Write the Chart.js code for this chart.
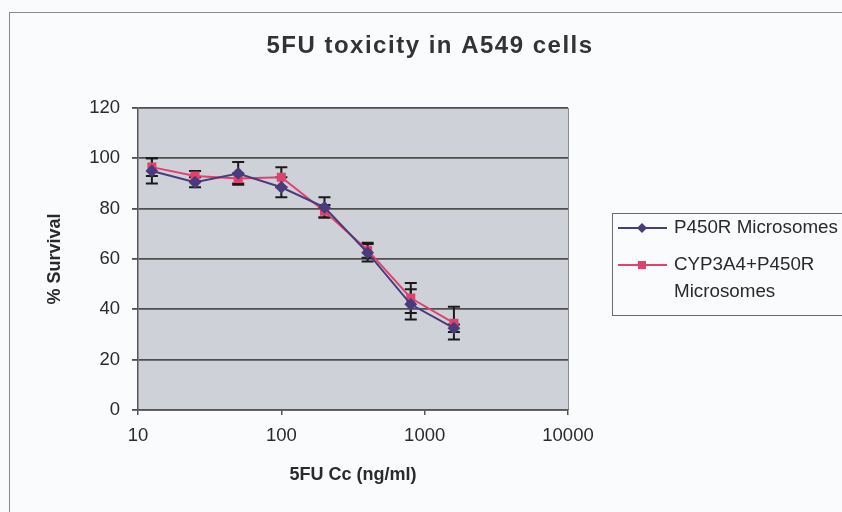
<!DOCTYPE html>
<html>
<head>
<meta charset="utf-8">
<script src="https://cdn.jsdelivr.net/npm/chart.js@4/dist/chart.umd.min.js"></script>
<style>
    html, body { margin: 0; padding: 0; background: #f9fbfc; }
    canvas { display: block; }
</style>
</head>
<body>
<canvas id="toxChart" width="842" height="512"></canvas>
<script>
// 5FU concentrations (ng/ml) and % survival
const concentrations = [12.5, 25, 50, 100, 200, 400, 800, 1600];
const p450rSurvival = [95, 90.5, 94, 88.5, 80.5, 62.5, 42, 32.5];
const p450rError = [5, 2, 4.5, 4, 4, 3.5, 6, 1.5];
const cypSurvival = [96.5, 93, 92, 92.5, 79, 63.5, 44.5, 34.5];
const cypError = [3.5, 2, 2, 4, 2.5, 3, 6, 6.5];
const xTickValues = [10, 100, 1000, 10000];
const seriesNames = ['P450R Microsomes', ['CYP3A4+P450R', 'Microsomes']];

const blue = '#4a3b7c';
const pink = '#e0426e';
const textColor = '#2a2a2a';
const fontFamily = 'Arial, "Liberation Sans", sans-serif';

function toPoints(values) {
    return concentrations.map((c, i) => ({ x: c, y: values[i] }));
}

// grey plot area, outer frame and title
const backdrop = {
    id: 'backdrop',
    beforeDraw(chart) {
        const { ctx, chartArea: a } = chart;
        ctx.save();
        ctx.fillStyle = '#cfd1d9';
        ctx.fillRect(a.left, a.top, a.right - a.left, a.bottom - a.top);
        ctx.strokeStyle = '#8a8a8a';
        ctx.lineWidth = 1;
        ctx.strokeRect(9.5, 12.5, 900, 600);
        ctx.strokeStyle = '#8c8c8c';
        ctx.beginPath();
        ctx.moveTo(a.right + 0.5, a.top);
        ctx.lineTo(a.right + 0.5, a.bottom);
        ctx.stroke();
        ctx.fillStyle = '#333';
        ctx.font = 'bold 24px ' + fontFamily;
        ctx.letterSpacing = '1.5px';
        ctx.textAlign = 'center';
        ctx.textBaseline = 'middle';
        ctx.fillText('5FU toxicity in A549 cells', 430, 46);
        ctx.restore();
    }
};

// vertical error bars with caps
const errorBars = {
    id: 'errorBars',
    beforeDatasetsDraw(chart) {
        const { ctx, scales: { x, y } } = chart;
        ctx.save();
        ctx.strokeStyle = '#1a1a1a';
        ctx.lineWidth = 2;
        chart.data.datasets.forEach(ds => {
            ds.data.forEach((p, i) => {
                const px = x.getPixelForValue(p.x);
                const top = y.getPixelForValue(p.y + ds.err[i]);
                const bot = y.getPixelForValue(p.y - ds.err[i]);
                ctx.beginPath();
                ctx.moveTo(px, top);
                ctx.lineTo(px, bot);
                ctx.moveTo(px - 6, top);
                ctx.lineTo(px + 6, top);
                ctx.moveTo(px - 6, bot);
                ctx.lineTo(px + 6, bot);
                ctx.stroke();
            });
        });
        ctx.restore();
    }
};

// boxed legend on the right
const boxLegend = {
    id: 'boxLegend',
    afterDraw(chart) {
        const { ctx } = chart;
        ctx.save();
        ctx.strokeStyle = '#6a6a6a';
        ctx.lineWidth = 1;
        ctx.strokeRect(612.5, 213.5, 300, 102);
        const rows = [228, 265];
        chart.data.datasets.forEach((ds, i) => {
            const yy = rows[i];
            ctx.strokeStyle = ds.borderColor;
            ctx.lineWidth = 2;
            ctx.beginPath();
            ctx.moveTo(618, yy);
            ctx.lineTo(667, yy);
            ctx.stroke();
            ctx.fillStyle = ds.pointBackgroundColor;
            ctx.beginPath();
            if (ds.pointStyle === 'rectRot') {
                ctx.moveTo(642, yy - 5);
                ctx.lineTo(647, yy);
                ctx.lineTo(642, yy + 5);
                ctx.lineTo(637, yy);
                ctx.closePath();
            } else {
                ctx.rect(638, yy - 4, 8, 8);
            }
            ctx.fill();
            ctx.fillStyle = textColor;
            ctx.font = '18.8px ' + fontFamily;
            ctx.textBaseline = 'middle';
            const lines = [].concat(seriesNames[i]);
            lines.forEach((t, k) => ctx.fillText(t, 674, yy + k * 27));
        });
        ctx.restore();
    }
};

const ctx = document.getElementById('toxChart').getContext('2d');
new Chart(ctx, {
    type: 'line',
    data: {
        datasets: [{
            label: 'P450R Microsomes',
            data: toPoints(p450rSurvival),
            err: p450rError,
            borderColor: blue,
            backgroundColor: blue,
            pointBackgroundColor: blue,
            pointBorderColor: blue,
            pointStyle: 'rectRot',
            pointRadius: 5,
            borderWidth: 2,
            tension: 0
        }, {
            label: 'CYP3A4+P450R Microsomes',
            data: toPoints(cypSurvival),
            err: cypError,
            borderColor: pink,
            backgroundColor: pink,
            pointBackgroundColor: pink,
            pointBorderColor: pink,
            pointStyle: 'rect',
            pointRadius: 5,
            borderWidth: 2,
            tension: 0
        }]
    },
    options: {
        responsive: false,
        animation: false,
        layout: { padding: { left: 0, top: 108, right: 274, bottom: 0 } },
        plugins: {
            legend: { display: false },
            tooltip: { enabled: false }
        },
        scales: {
            x: {
                type: 'logarithmic',
                min: 10,
                max: 10000,
                afterBuildTicks: scale => { scale.ticks = xTickValues.map(v => ({ value: v })); },
                afterFit: scale => { scale.height = 102; },
                ticks: {
                    callback: v => String(v),
                    color: textColor,
                    font: { family: fontFamily, size: 18.5 },
                    padding: 10,
                    maxRotation: 0
                },
                grid: { drawOnChartArea: false, color: '#555', tickLength: 5, lineWidth: 1.5 },
                border: { color: '#555', width: 1.5 },
                title: {
                    display: true,
                    text: '5FU Cc (ng/ml)',
                    color: textColor,
                    font: { family: fontFamily, size: 18, weight: 'bold' },
                    padding: { top: 0, bottom: 26 }
                }
            },
            y: {
                min: 0,
                max: 120,
                afterFit: scale => { scale.width = 138; },
                ticks: {
                    stepSize: 20,
                    color: textColor,
                    font: { family: fontFamily, size: 18.5 },
                    padding: 12
                },
                grid: { color: '#4e4e4e', tickLength: 6, lineWidth: 1.8 },
                border: { color: '#555', width: 1.5 },
                title: {
                    display: true,
                    text: '% Survival',
                    color: textColor,
                    font: { family: fontFamily, size: 18, weight: 'bold' },
                    padding: { top: 44, bottom: 0 }
                }
            }
        }
    },
    plugins: [backdrop, errorBars, boxLegend]
});
</script>
</body>
</html>
